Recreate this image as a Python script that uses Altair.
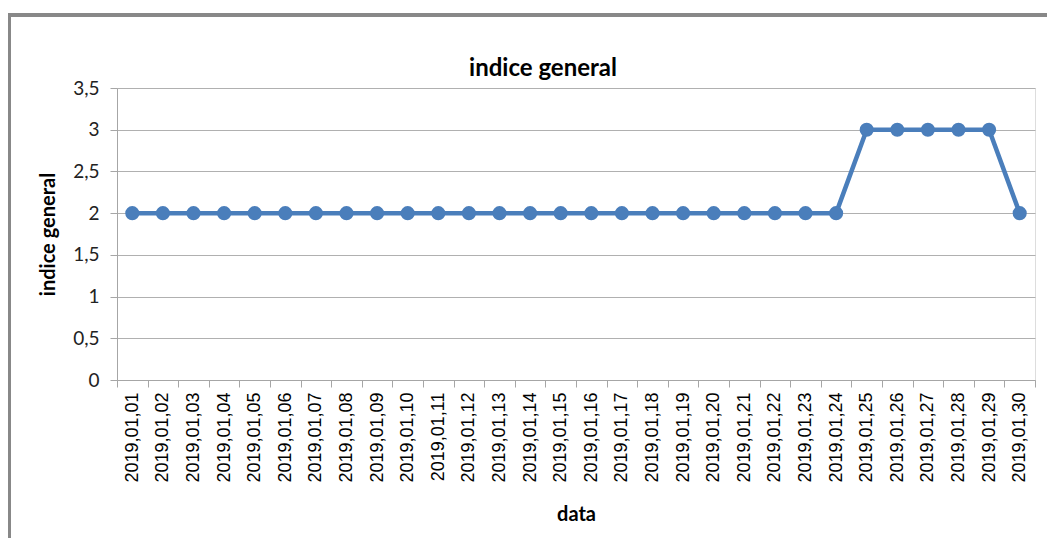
import altair as alt
import pandas as pd

dates = [f"2019,01,{d:02d}" for d in range(1, 31)]
values = [2] * 24 + [3, 3, 3, 3, 3] + [2]

df = pd.DataFrame({"data": dates, "indice general": values})

BLUE = "#4a7ebb"

base = alt.Chart(df).encode(
    x=alt.X("data:N", sort=dates,
            scale=alt.Scale(paddingInner=0, paddingOuter=0, align=0.5),
            axis=alt.Axis(title="data", labelAngle=-90, labelFont="Liberation Sans",
                          labelFontSize=18, labelColor="#000", labelPadding=5,
                          tickColor="#a6a6a6", tickSize=7, domainColor="#a6a6a6",
                          tickBand="extent", grid=False,
                          titleFont="Lato", titleFontSize=20, titleFontWeight="bold",
                          titleColor="#000", titlePadding=22, labelBaseline="middle",
                          labelAlign="right")),
    y=alt.Y("indice general:Q",
            scale=alt.Scale(domain=[0, 3.5]),
            axis=alt.Axis(title="indice general", values=[0, 0.5, 1, 1.5, 2, 2.5, 3, 3.5],
                          labelExpr="replace(format(datum.value, '~g'), '.', ',')",
                          labelFont="Lato", labelFontSize=19, labelColor="#222",
                          labelPadding=11, tickSize=7, tickColor="#a6a6a6",
                          domainColor="#a6a6a6", gridColor="#b0b0b0", gridWidth=1.2,
                          titleFont="Lato", titleFontSize=20, titleFontWeight="bold",
                          titleColor="#000", titlePadding=14)),
)

line = base.mark_line(color=BLUE, strokeWidth=4.5)
pts = base.mark_circle(color=BLUE, size=200, opacity=1)

border_top = alt.Chart(df).mark_rule(color="#888888", strokeWidth=2.5).encode(
    x=alt.value(-109), x2=alt.value(960), y=alt.value(-73))
border_left = alt.Chart(df).mark_rule(color="#888888", strokeWidth=2.5).encode(
    x=alt.value(-108), y=alt.value(-74), y2=alt.value(460))

chart = alt.layer(border_top, border_left, line, pts).properties(
    width=918, height=292,
    padding={"left": 109, "top": 80, "right": 12, "bottom": 158},
    autosize=alt.AutoSizeParams(type="none"),
    title=alt.Title("indice general", font="Lato", fontSize=24, fontWeight="bold",
                    color="#000", offset=-68, dx=-33),
).configure_view(stroke=None).configure(background="white")

chart.save("out.html", embed_options={"renderer": "svg", "actions": False})
